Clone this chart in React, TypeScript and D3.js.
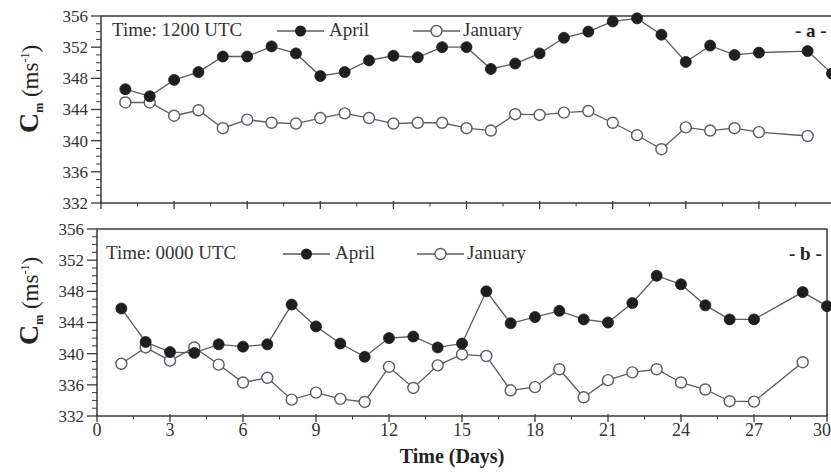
import React from "react";
import * as d3 from "d3";

// ---- data ----
const daysAprilTop = [1,2,3,4,5,6,7,8,9,10,11,12,13,14,15,16,17,18,19,20,21,22,23,24,25,26,27,29,30];
const aprilTop = [346.6,345.7,347.8,348.8,350.8,350.8,352.1,351.2,348.3,348.8,350.3,350.9,350.7,352.0,352.0,349.2,349.9,351.2,353.2,354.0,355.3,355.7,353.6,350.1,352.2,351.0,351.3,351.5,348.6];
const daysJanTop = [1,2,3,4,5,6,7,8,9,10,11,12,13,14,15,16,17,18,19,20,21,22,23,24,25,26,27,29];
const januaryTop = [344.9,344.9,343.2,343.9,341.6,342.7,342.3,342.2,342.9,343.5,342.9,342.2,342.3,342.3,341.6,341.3,343.4,343.3,343.6,343.8,342.3,340.7,338.9,341.7,341.3,341.6,341.1,340.6];

const daysAprilBottom = [1,2,3,4,5,6,7,8,9,10,11,12,13,14,15,16,17,18,19,20,21,22,23,24,25,26,27,29,30];
const aprilBottom = [345.8,341.5,340.2,340.1,341.2,340.9,341.2,346.3,343.5,341.3,339.6,342.0,342.2,340.8,341.3,348.0,343.9,344.7,345.5,344.4,344.0,346.5,350.0,348.9,346.2,344.4,344.4,347.9,346.1];
const daysJanBottom = [1,2,3,4,5,6,7,8,9,10,11,12,13,14,15,16,17,18,19,20,21,22,23,24,25,26,27,29];
const januaryBottom = [338.7,340.8,339.1,340.8,338.6,336.3,336.9,334.1,335.0,334.2,333.8,338.3,335.6,338.5,339.9,339.7,335.3,335.7,338.0,334.4,336.6,337.6,338.0,336.3,335.4,333.9,333.85,338.9];

const yTicks = [332,336,340,344,348,352,356];
const xTicks = [0,3,6,9,12,15,18,21,24,27,30];

const FONT = "Liberation Serif, Times New Roman, Times, serif";
const LINE = "#5c5a66";
const FRAME = "#3a3a3a";

type PanelProps = {
  x0: number; x1: number; yTop: number; yBot: number;
  title: string; tag: string; showXLabels: boolean;
  aDays: number[]; aVals: number[]; jDays: number[]; jVals: number[];
  legendY: number; legend: { titleX: number; aprilX: number; janX: number }; tagX: number;
  labelCenter: number;
};

function Panel(p: PanelProps) {
  const x = d3.scaleLinear().domain([0, 30]).range([p.x0, p.x1]);
  const y = d3.scaleLinear().domain([332, 356]).range([p.yBot, p.yTop]);
  const line = d3.line<[number, number]>().x(d => x(d[0])).y(d => y(d[1]));
  const aPts: [number, number][] = p.aDays.map((d, i) => [d, p.aVals[i]]);
  const jPts: [number, number][] = p.jDays.map((d, i) => [d, p.jVals[i]]);
  const minorY = d3.range(332, 357, 1).filter(v => v % 4 !== 0);
  const minorX = d3.range(1.5, 30, 3);
  const r = 5.5;
  const lg = 19;
  return (
    <g>
      <rect x={p.x0} y={p.yTop} width={p.x1 - p.x0} height={p.yBot - p.yTop} fill="none" stroke={FRAME} strokeWidth={1.5} />
      {yTicks.map(t => (
        <g key={"yt" + t}>
          <line x1={p.x0 - 10} x2={p.x0} y1={y(t)} y2={y(t)} stroke={FRAME} strokeWidth={1.3} />
          <text x={p.x0 - 13} y={y(t)} dy="0.35em" textAnchor="end" fontFamily={FONT} fontSize={17} fill="#333">{t}</text>
        </g>
      ))}
      {minorY.map(t => (
        <line key={"ym" + t} x1={p.x0 - 5} x2={p.x0} y1={y(t)} y2={y(t)} stroke={FRAME} strokeWidth={1} />
      ))}
      {xTicks.map((t, i) => (
        <g key={"xt" + t}>
          <line x1={x(t)} x2={x(t)} y1={p.yBot - 2} y2={p.yBot + 6} stroke={FRAME} strokeWidth={1.3} />
          {p.showXLabels && (
            <text x={i === xTicks.length - 1 ? 831 : x(t)} y={p.yBot + 20}
              textAnchor={i === xTicks.length - 1 ? "end" : "middle"}
              fontFamily={FONT} fontSize={18} fill="#333">{t}</text>
          )}
        </g>
      ))}
      {minorX.map(t => (
        <line key={"xm" + t} x1={x(t)} x2={x(t)} y1={p.yBot} y2={p.yBot + 3.5} stroke={FRAME} strokeWidth={1} />
      ))}
      <path d={line(jPts) || ""} fill="none" stroke={LINE} strokeWidth={1.3} />
      <path d={line(aPts) || ""} fill="none" stroke={LINE} strokeWidth={1.3} />
      {jPts.map((d, i) => (
        <circle key={"j" + i} cx={x(d[0])} cy={y(d[1])} r={r} fill="#fff" stroke={LINE} strokeWidth={1.4} />
      ))}
      {aPts.map((d, i) => (
        <circle key={"a" + i} cx={x(d[0])} cy={y(d[1])} r={r} fill="#1e1e1e" stroke="#1e1e1e" strokeWidth={0.8} />
      ))}
      <text x={p.legend.titleX} y={p.legendY} fontFamily={FONT} fontSize={lg} fill="#333">{p.title}</text>
      <line x1={p.legend.aprilX} x2={p.legend.aprilX + 47} y1={p.legendY - 5} y2={p.legendY - 5} stroke={LINE} strokeWidth={1.3} />
      <circle cx={p.legend.aprilX + 23.5} cy={p.legendY - 5} r={r} fill="#1e1e1e" />
      <text x={p.legend.aprilX + 52} y={p.legendY} fontFamily={FONT} fontSize={lg} fill="#333">April</text>
      <line x1={p.legend.janX} x2={p.legend.janX + 47} y1={p.legendY - 5} y2={p.legendY - 5} stroke={LINE} strokeWidth={1.3} />
      <circle cx={p.legend.janX + 23.5} cy={p.legendY - 5} r={r} fill="#fff" stroke={LINE} strokeWidth={1.4} />
      <text x={p.legend.janX + 50} y={p.legendY} fontFamily={FONT} fontSize={lg} fill="#333">January</text>
      <text x={p.tagX} y={p.legendY + 1} fontFamily={FONT} fontSize={19} fontWeight="bold" fill="#222">{"- " + p.tag + " -"}</text>
      <text transform={`translate(38,${p.labelCenter}) rotate(-90)`} textAnchor="middle" fontFamily={FONT} fill="#222">
        <tspan fontSize={28} fontWeight="bold">C</tspan>
        <tspan fontSize={12} fontWeight="bold" dy={5}>m</tspan>
        <tspan fontSize={23} dy={-5}>{" (ms"}</tspan>
        <tspan fontSize={12} dy={-9}>-1</tspan>
        <tspan fontSize={23} dy={9}>)</tspan>
      </text>
    </g>
  );
}

export default function App() {
  return (
    <svg width={831} height={473} style={{ position: "absolute", left: 0, top: 0, background: "#fff" }}>
      <rect x={0} y={0} width={831} height={473} fill="#fff" />
      <Panel
        x0={101} x1={832} yTop={16} yBot={203}
        title="Time: 1200 UTC" tag="a" showXLabels={false}
        aDays={daysAprilTop} aVals={aprilTop} jDays={daysJanTop} jVals={januaryTop}
        legendY={36} legend={{ titleX: 112, aprilX: 277, janX: 413 }} tagX={795}
        labelCenter={89}
      />
      <Panel
        x0={97} x1={827} yTop={229} yBot={416}
        title="Time: 0000 UTC" tag="b" showXLabels={true}
        aDays={daysAprilBottom} aVals={aprilBottom} jDays={daysJanBottom} jVals={januaryBottom}
        legendY={259} legend={{ titleX: 106, aprilX: 283, janX: 417 }} tagX={789}
        labelCenter={301}
      />
      <text x={452} y={463} textAnchor="middle" fontFamily={FONT} fontSize={20} fontWeight="bold" fill="#222">Time (Days)</text>
    </svg>
  );
}
